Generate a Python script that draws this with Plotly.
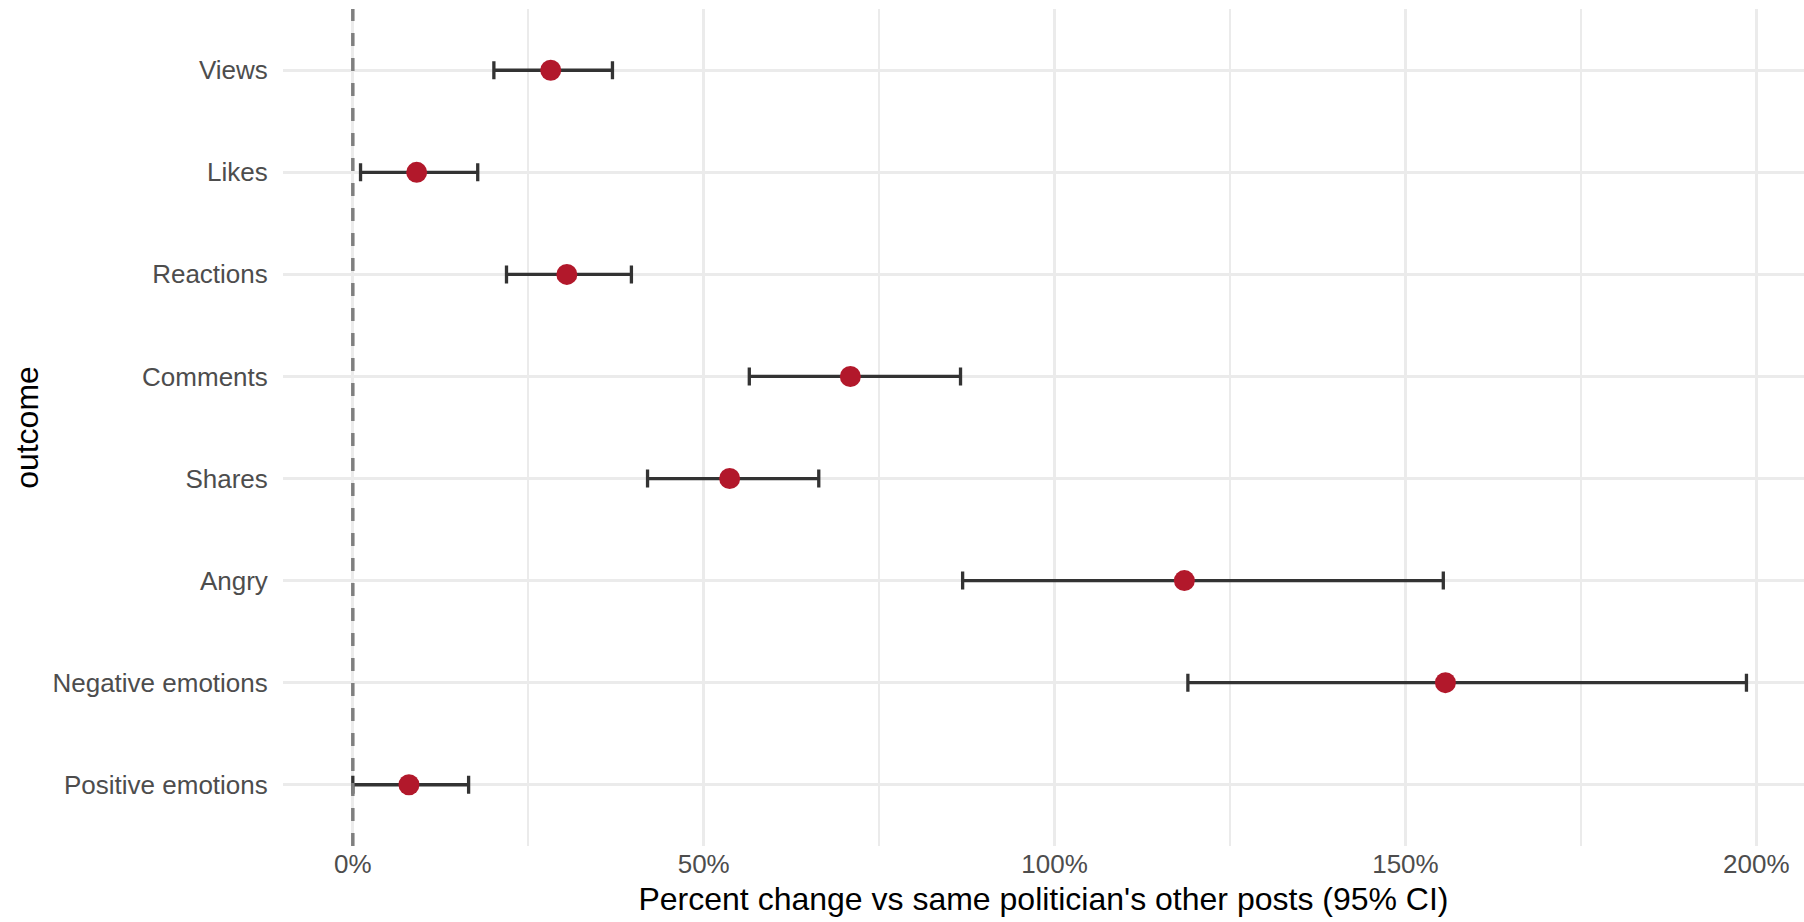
import plotly.graph_objects as go

# Data (percent change, 95% CI)
outcomes = ["Views", "Likes", "Reactions", "Comments", "Shares",
            "Angry", "Negative emotions", "Positive emotions"]
estimate = [28.2, 9.1, 30.5, 70.9, 53.7, 118.5, 155.7, 8.0]
ci_low = [20.1, 1.1, 21.9, 56.5, 42.0, 86.9, 119.0, 0.0]
ci_high = [37.0, 17.8, 39.7, 86.6, 66.4, 155.4, 198.6, 16.5]
x_ticks = [0, 50, 100, 150, 200]
x_tick_labels = ["0%", "50%", "100%", "150%", "200%"]

err_plus = [h - e for h, e in zip(ci_high, estimate)]
err_minus = [e - l for e, l in zip(estimate, ci_low)]

POINT = "#B2182B"
BAR = "#333333"
GRID = "#EBEBEB"
FONT = "Liberation Sans, Arial, Helvetica, sans-serif"

fig = go.Figure()

# Reference line at 0
fig.add_shape(type="line", xref="x", yref="paper", x0=0, x1=0, y0=0, y1=1,
              line=dict(color="#7F7F7F", width=3.5, dash="13px,12px"),
              layer="above")

# Error bars
fig.add_trace(go.Scatter(
    x=estimate, y=outcomes, mode="markers",
    marker=dict(size=0.1, color="rgba(0,0,0,0)"),
    error_x=dict(type="data", symmetric=False, array=err_plus,
                 arrayminus=err_minus, color=BAR, thickness=3.3, width=9),
    showlegend=False, hoverinfo="skip"))

# Point estimates
fig.add_trace(go.Scatter(
    x=estimate, y=outcomes, mode="markers",
    marker=dict(size=21, color=POINT, line=dict(width=0)),
    showlegend=False))

fig.update_layout(
    width=1804, height=922,
    margin=dict(l=283, r=0, t=9, b=76),
    paper_bgcolor="white", plot_bgcolor="white",
    font=dict(family=FONT, color="#4D4D4D", size=26),
    xaxis=dict(
        automargin=False,
        range=[-9.95, 206.8],
        tickvals=x_ticks, ticktext=x_tick_labels,
        showgrid=True, gridcolor=GRID, gridwidth=3,
        minor=dict(dtick=25, tick0=0, showgrid=True, gridcolor=GRID, gridwidth=1.5),
        zeroline=False, showline=False,
        ticks="",
        tickfont=dict(size=26, color="#4D4D4D", family=FONT),
        title=dict(text="Percent change vs same politician's other posts (95% CI)",
                   font=dict(size=32, color="black", family=FONT), standoff=9),
    ),
    yaxis=dict(
        automargin=False,
        categoryorder="array", categoryarray=outcomes[::-1],
        range=[-0.6, 7.6],
        showgrid=True, gridcolor=GRID, gridwidth=3,
        zeroline=False, showline=False,
        ticks="outside", ticklen=9, tickcolor="rgba(0,0,0,0)",
        tickfont=dict(size=26, color="#4D4D4D", family=FONT),
        title=dict(text="outcome", font=dict(size=32, color="black", family=FONT),
                   standoff=4),
    ),
)

fig.write_html(
    "out.html",
    config={"displayModeBar": False},
    post_script="document.body.style.margin='0';document.body.style.overflow='hidden';",
)
